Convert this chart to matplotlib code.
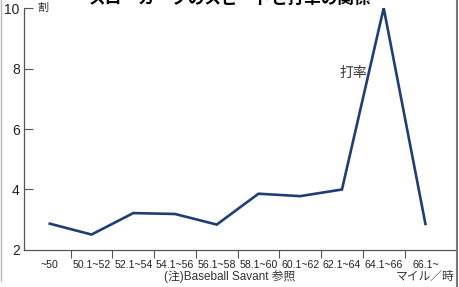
import matplotlib
matplotlib.use("Agg")
import matplotlib.pyplot as plt
from matplotlib.lines import Line2D

plt.rcParams["font.family"] = ["Liberation Sans", "Noto Sans CJK JP", "DejaVu Sans"]

# pitch speed bins (mph) and batting average (割)
speed_bins = ["~50", "50.1~52", "52.1~54", "54.1~56", "56.1~58",
              "58.1~60", "60.1~62", "62.1~64", "64.1~66", "66.1~"]
batting_avg = [2.87, 2.51, 3.22, 3.19, 2.84, 3.86, 3.78, 4.0, 10.0, 2.86]
y_ticks = [2, 4, 6, 8, 10]

title = "スローカーブのスピードと打率の関係"
note = "(注)Baseball Savant 参照"
unit_x = "マイル／時"
unit_y = "割"
series_label = "打率"

navy = "#1f3e74"
dark = "#333333"

fig = plt.figure(figsize=(4.6, 2.87), dpi=100)
ax = fig.add_axes([0.052, 0.129, 0.94, 0.843])

x = list(range(len(speed_bins)))
ax.plot(x, batting_avg, color=navy, lw=1.9, solid_joinstyle="miter")

ax.set_xlim(-0.62, 9.74)
ax.set_ylim(2, 10)
ax.set_yticks(y_ticks)
ax.set_yticklabels([str(v) for v in y_ticks], fontsize=10, color="#222222")
ax.tick_params(axis="y", direction="in", length=6.5, width=0.8, color="#555555", pad=3)
ax.yaxis.get_major_ticks()[0].tick1line.set_visible(False)

ax.set_xticks(x)
ax.set_xticklabels(speed_bins, fontsize=7.6, color="#222222")
ax.tick_params(axis="x", which="major", length=0, pad=7)
ax.set_xticks([i + 0.5 for i in range(len(speed_bins) - 1)], minor=True)
ax.tick_params(axis="x", which="minor", direction="out", length=6, width=0.8, color="#555555")

for side in ["top", "right"]:
    ax.spines[side].set_visible(False)
for side in ["left", "bottom"]:
    ax.spines[side].set_color("#555555")
    ax.spines[side].set_linewidth(0.9)

ax.annotate(unit_y, xy=(0, 1), xycoords="axes fraction", xytext=(10, 0),
            textcoords="offset points", fontsize=8, color=dark, va="center", ha="left",
            family=["Noto Sans CJK JP", "DejaVu Sans"])
ax.text(7.27, 7.85, series_label, fontsize=10, color=dark, ha="center", va="center",
        family=["Noto Sans CJK JP", "DejaVu Sans"])

fig.text(0.5, 0.035, note, fontsize=8.5, color=dark, ha="center", va="center")
fig.text(0.988, 0.035, unit_x, fontsize=8.5, color=dark, ha="right", va="center",
         family=["Noto Sans CJK JP", "DejaVu Sans"])
fig.text(0.5, 1.004, title, fontsize=12, fontweight="bold", color="black",
         ha="center", va="center", family=["Noto Sans CJK JP", "DejaVu Sans"])

fig.add_artist(Line2D([0.003, 0.003], [0.02, 1.0], transform=fig.transFigure,
                      color="#bbbbbb", lw=1))
fig.add_artist(Line2D([0.993, 0.993], [0.0, 1.0], transform=fig.transFigure,
                      color="#777777", lw=1.5))

fig.savefig("out.png", dpi=100)
